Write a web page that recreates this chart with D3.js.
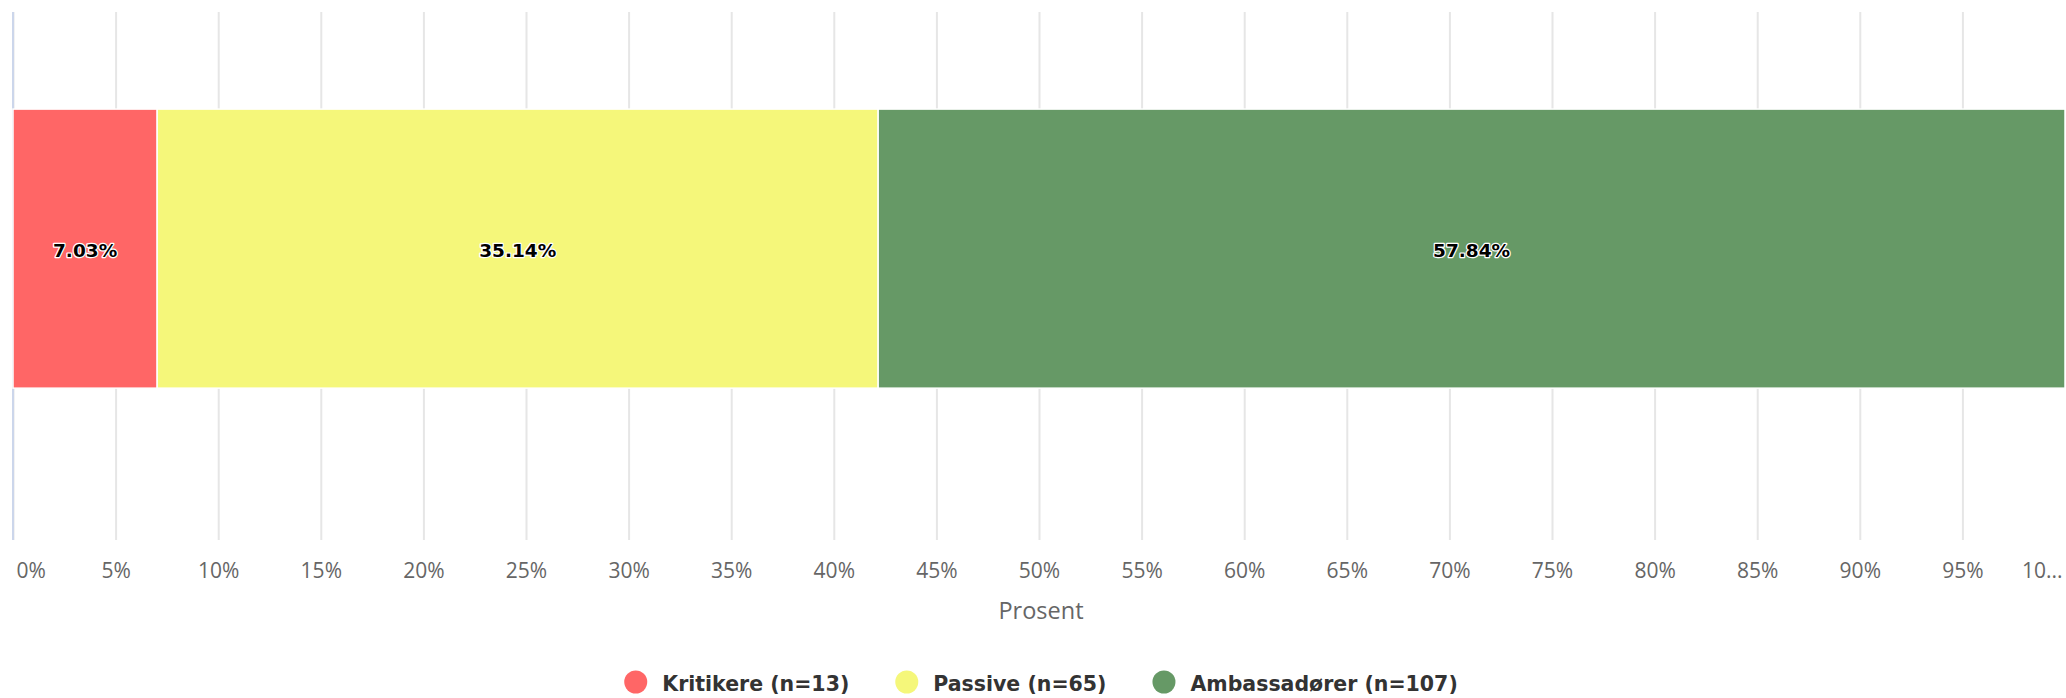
<!DOCTYPE html>
<html>
<head>
<meta charset="utf-8">
<script src="https://cdn.jsdelivr.net/npm/d3@7"></script>
<style>
  body { margin: 0; background: #fff; }
  svg { display: block; }
</style>
</head>
<body>
<div class="chart"></div>
<script>
// data
const categories = ['Kritikere', 'Passive', 'Ambassadører'];
const counts = [13, 65, 107];
const colors = ['#ff6666', '#f5f77a', '#669966'];
const rowLabels = [''];
const tickVals = [0, 5, 10, 15, 20, 25, 30, 35, 40, 45, 50, 55, 60, 65, 70, 75, 80, 85, 90, 95, 100];
const axisTitle = 'Prosent';

const width = 2066, height = 698;
const margin = {top: 12, left: 13, right: 1, bottom: 158};
const plotH = height - margin.top - margin.bottom;

const svg = d3.select('.chart')
  .append('svg')
    .attr('width', width)
    .attr('height', height);

const x = d3.scaleLinear()
  .domain([0, 100])
  .range([margin.left, width - margin.right]);

const y = d3.scaleBand()
  .domain(rowLabels)
  .range([margin.top, margin.top + plotH])
  .paddingInner(0)
  .paddingOuter(0.446)
  .align(0.39);

// stacked percent
const total = d3.sum(counts);
const segs = [];
let acc = 0;
counts.forEach((c, i) => {
  const p = c / total * 100;
  segs.push({name: categories[i], n: c, pct: p, x0: acc, x1: acc + p, color: colors[i]});
  acc += p;
});

// grid lines (the 100% line sits past the visible edge)
const grid = svg.append('g')
  .attr('transform', `translate(0, ${margin.top})`)
  .call(d3.axisBottom(x).tickValues(tickVals.filter(d => d < 100)).tickSize(plotH).tickFormat(''));
grid.select('.domain').remove();
grid.selectAll('line')
  .attr('stroke', '#e6e6e6')
  .attr('stroke-width', 2);

// left axis line
svg.append('line')
  .attr('x1', margin.left).attr('x2', margin.left)
  .attr('y1', margin.top).attr('y2', margin.top + plotH)
  .attr('stroke', '#ccd6eb')
  .attr('stroke-width', 2);

// bars
svg.selectAll('rect.seg')
  .data(segs)
  .enter()
  .append('rect')
    .attr('class', 'seg')
    .attr('x', d => x(d.x0))
    .attr('y', y(''))
    .attr('width', d => x(d.x1) - x(d.x0))
    .attr('height', y.bandwidth())
    .attr('fill', d => d.color)
    .attr('stroke', '#ffffff')
    .attr('stroke-width', 1.5);

// data labels
svg.selectAll('text.lbl')
  .data(segs)
  .enter()
  .append('text')
    .attr('class', 'lbl')
    .attr('x', d => (x(d.x0) + x(d.x1)) / 2)
    .attr('y', y('') + y.bandwidth() / 2)
    .attr('dy', '0.46em')
    .attr('text-anchor', 'middle')
    .style('font-family', '"DejaVu Sans", sans-serif')
    .style('font-weight', 'bold')
    .style('font-size', '18.5px')
    .style('fill', '#000')
    .style('stroke', '#fff')
    .style('stroke-width', 2.5)
    .style('stroke-linejoin', 'round')
    .style('paint-order', 'stroke')
    .text(d => d.pct.toFixed(2) + '%');

// x axis labels
const xAxisGroup = svg.append('g')
  .attr('transform', `translate(0, ${margin.top + plotH})`)
  .call(d3.axisBottom(x).tickValues(tickVals).tickSize(0).tickPadding(23).tickFormat(d => d + '%'));
xAxisGroup.select('.domain').remove();
xAxisGroup.selectAll('text')
  .style('font-family', '"Open Sans", sans-serif')
  .style('font-size', '21px')
  .attr('fill', '#666666');
xAxisGroup.selectAll('text').filter(d => d === 0)
  .attr('text-anchor', 'start')
  .attr('dx', 3);
xAxisGroup.selectAll('text').filter(d => d === 100)
  .attr('text-anchor', 'end')
  .attr('dx', -3)
  .text('10...');

// axis title
svg.append('text')
  .attr('x', (x(0) + x(100)) / 2 + 2)
  .attr('y', 619)
  .attr('text-anchor', 'middle')
  .style('font-family', '"Open Sans", sans-serif')
  .style('font-size', '23.5px')
  .attr('fill', '#666666')
  .text(axisTitle);

// legend
const legend = svg.append('g');
const items = legend.selectAll('g.item')
  .data(segs)
  .enter()
  .append('g')
    .attr('class', 'item');
items.append('circle')
  .attr('r', 11.5)
  .attr('cx', 11.5)
  .attr('cy', 0)
  .attr('fill', d => d.color);
items.append('text')
  .attr('x', 38)
  .attr('y', 9)
  .style('font-family', '"DejaVu Sans", sans-serif')
  .style('font-weight', 'bold')
  .style('font-size', '20.5px')
  .attr('fill', '#333333')
  .text(d => `${d.name} (n=${d.n})`);

let pos = 0;
const offsets = [];
items.each(function() {
  offsets.push(pos);
  const tw = d3.select(this).select('text').node().getComputedTextLength();
  pos += 38 + tw + 46;
});
const legendW = pos - 46;
const legendX = 1041 - legendW / 2;
items.attr('transform', (d, i) => `translate(${legendX + offsets[i]}, 682)`);
</script>
</body>
</html>
